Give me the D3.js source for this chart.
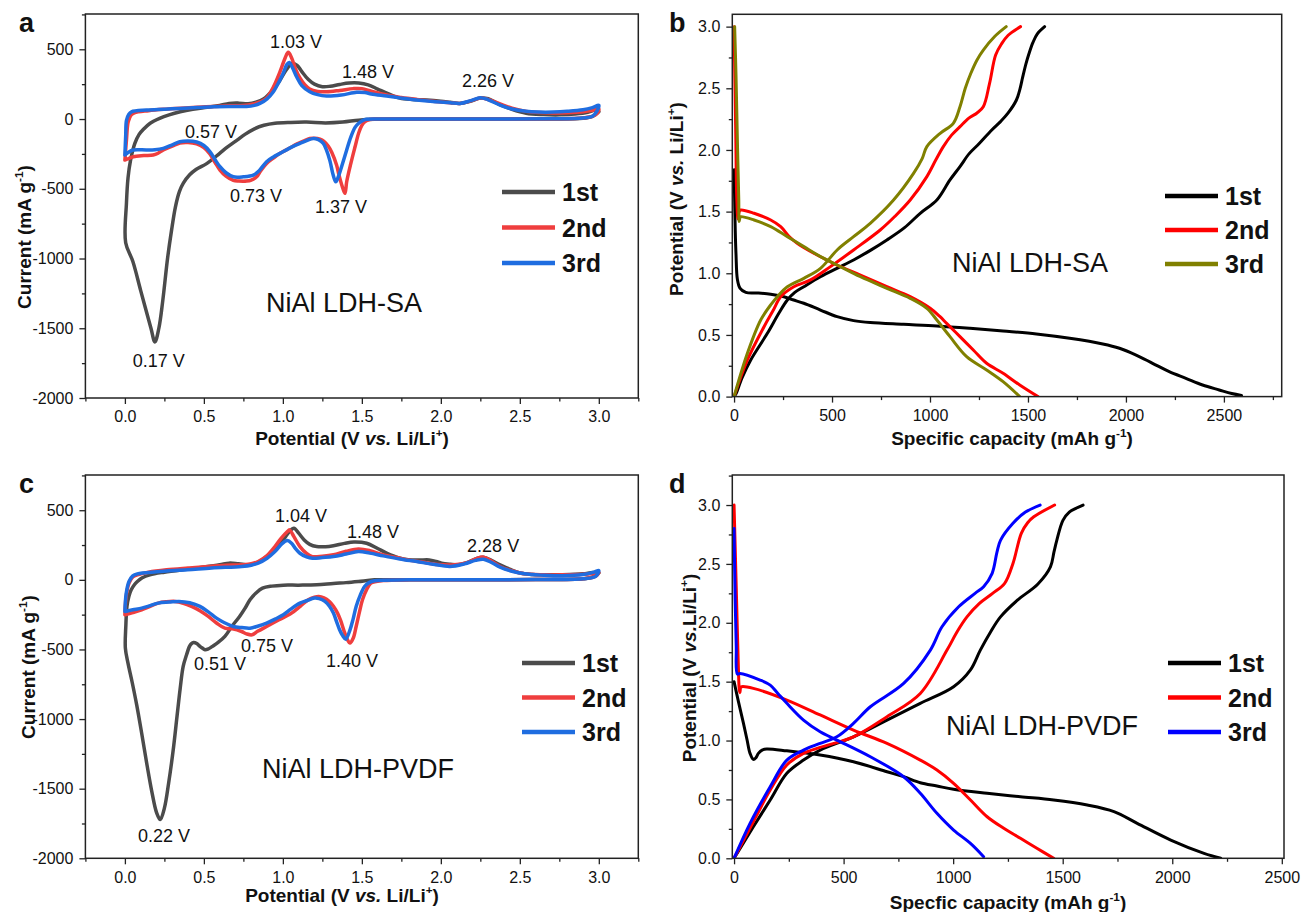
<!DOCTYPE html>
<html>
<head>
<meta charset="utf-8">
<script src="https://cdn.jsdelivr.net/npm/d3@7"></script>
<style>
  body { margin: 0; background: #fff; }
  svg text { font-family: "Liberation Sans", Arial, sans-serif; fill: #111; }
  .tick text { font-size: 16px; }
</style>
</head>
<body>
<div id="chart"></div>
<script>
/* Four panels: CV curves (a, c) and charge/discharge profiles (b, d) */
const width = 1301, height = 912;

// ---- tick values ----
const cvTicksX = [0, 0.5, 1, 1.5, 2, 2.5, 3];
const cvTicksY = [-2000, -1500, -1000, -500, 0, 500];
const gcdTicksX = [0, 500, 1000, 1500, 2000, 2500];
const gcdTicksY = [0, 0.5, 1, 1.5, 2, 2.5, 3];
const cycles = ["1st", "2nd", "3rd"];

// ---- a: CV, NiAl LDH-SA  [V, mA/g] ----
const saCV1 = [[3.0,52],[2.96,18],[2.9,5],[2.7,0],[2.2,0],[1.8,0],[1.58,-2],[1.48,-8],[1.38,-22],[1.27,-28],[1.15,-22],[1.05,-24],[0.95,-30],[0.88,-45],[0.82,-70],[0.76,-110],[0.71,-151],[0.65,-200],[0.60,-246],[0.52,-318],[0.45,-362],[0.41,-400],[0.37,-460],[0.345,-520],[0.32,-629],[0.295,-800],[0.27,-1000],[0.24,-1300],[0.215,-1500],[0.19,-1598],[0.165,-1500],[0.1,-1230],[0.05,-1020],[0.005,-887],
  [0.01,-600],[0.02,-420],[0.035,-300],[0.063,-175],[0.09,-110],[0.116,-75],[0.16,-30],[0.22,5],[0.28,30],[0.35,52],[0.43,70],[0.52,84],[0.6,97],[0.66,112],[0.72,114],[0.78,110],[0.83,120],[0.88,145],[0.93,200],[0.98,275],[1.02,350],[1.06,400],[1.09,385],[1.12,340],[1.16,285],[1.2,250],[1.25,232],[1.3,235],[1.36,248],[1.42,258],[1.48,258],[1.54,245],[1.6,215],[1.67,180],[1.74,150],[1.82,140],[1.91,136],[2.0,128],[2.06,120],[2.12,112],[2.18,125],[2.25,150],[2.3,145],[2.37,105],[2.45,70],[2.54,42],[2.65,32],[2.75,30],[2.85,36],[2.93,48],[2.98,65],[3.0,52]];
const saCV2 = [[0.0,-294],[0.01,-150],[0.021,-20],[0.04,30],[0.06,45],[0.15,60],[0.243,70],[0.35,78],[0.454,84],[0.56,90],[0.665,95],[0.75,97],[0.813,108],[0.86,125],[0.897,150],[0.94,230],[0.982,340],[1.015,440],[1.034,478],[1.055,440],[1.08,360],[1.108,295],[1.14,245],[1.17,215],[1.22,198],[1.277,195],[1.36,205],[1.446,218],[1.5,218],[1.56,200],[1.657,172],[1.75,155],[1.847,141],[1.95,128],[2.058,117],[2.12,112],[2.19,130],[2.25,150],[2.3,140],[2.375,108],[2.45,78],[2.54,55],[2.62,46],[2.71,43],[2.8,45],[2.9,52],[2.96,62],[3.0,72],
  [2.99,40],[2.96,20],[2.9,8],[2.7,2],[2.3,0],[1.9,0],[1.6,0],[1.55,-3],[1.52,-18],[1.5,-45],[1.48,-100],[1.457,-199],[1.43,-320],[1.404,-450],[1.393,-533],[1.375,-480],[1.355,-400],[1.34,-330],[1.31,-240],[1.288,-195],[1.26,-160],[1.235,-145],[1.2,-138],[1.17,-140],[1.13,-158],[1.087,-180],[1.04,-210],[0.982,-246],[0.94,-280],[0.897,-318],[0.86,-370],[0.834,-414],[0.8,-438],[0.771,-445],[0.72,-445],[0.686,-440],[0.64,-410],[0.602,-366],[0.57,-310],[0.538,-250],[0.5,-205],[0.454,-178],[0.4,-168],[0.348,-172],[0.3,-195],[0.243,-222],[0.21,-245],[0.179,-258],[0.12,-262],[0.053,-270],[0.02,-285],[0.0,-294]];
const saCV3 = [[0.0,-258],[0.005,-120],[0.01,-10],[0.025,35],[0.042,52],[0.137,64],[0.25,70],[0.348,76],[0.46,82],[0.56,88],[0.66,90],[0.77,90],[0.82,98],[0.855,112],[0.9,145],[0.94,196],[0.975,265],[1.003,330],[1.025,390],[1.04,405],[1.06,370],[1.087,303],[1.12,240],[1.17,196],[1.22,175],[1.277,165],[1.37,172],[1.467,192],[1.52,190],[1.56,180],[1.657,165],[1.75,150],[1.847,136],[1.95,125],[2.06,117],[2.12,112],[2.19,132],[2.25,153],[2.3,138],[2.375,100],[2.45,72],[2.54,55],[2.62,50],[2.71,50],[2.8,55],[2.9,66],[2.96,82],[3.0,98],
  [2.99,60],[2.96,20],[2.9,8],[2.7,2],[2.3,0],[1.9,0],[1.6,0],[1.53,-2],[1.51,-8],[1.48,-30],[1.457,-60],[1.43,-130],[1.404,-222],[1.375,-330],[1.351,-414],[1.335,-450],[1.318,-400],[1.298,-300],[1.275,-220],[1.256,-175],[1.225,-148],[1.193,-139],[1.15,-155],[1.108,-175],[1.04,-210],[0.982,-246],[0.94,-272],[0.897,-306],[0.85,-370],[0.813,-402],[0.75,-414],[0.686,-414],[0.64,-385],[0.602,-342],[0.57,-290],[0.538,-234],[0.5,-190],[0.454,-165],[0.4,-158],[0.348,-163],[0.3,-185],[0.243,-210],[0.19,-220],[0.137,-222],[0.053,-222],[0.02,-240],[0.0,-258]];

// ---- c: CV, NiAl LDH-PVDF ----
const pvCV1 = [[3.0,50],[2.96,20],[2.9,8],[2.6,2],[2.2,0],[1.8,0],[1.58,0],[1.478,-12],[1.4,-20],[1.32,-26],[1.214,-36],[1.1,-38],[1.003,-38],[0.93,-45],[0.871,-60],[0.83,-95],[0.792,-143],[0.76,-205],[0.726,-263],[0.68,-330],[0.633,-406],[0.59,-450],[0.554,-478],[0.53,-495],[0.507,-502],[0.49,-490],[0.475,-478],[0.455,-458],[0.435,-450],[0.42,-460],[0.409,-478],[0.39,-540],[0.369,-622],[0.35,-780],[0.33,-980],[0.305,-1230],[0.277,-1459],[0.25,-1640],[0.224,-1722],[0.2,-1670],[0.172,-1530],[0.14,-1330],[0.106,-1100],[0.075,-900],[0.047,-741],[0.02,-600],[0.003,-490],
  [0.006,-330],[0.013,-191],[0.025,-120],[0.04,-72],[0.06,-35],[0.079,-12],[0.11,15],[0.158,36],[0.25,55],[0.396,77],[0.5,92],[0.6,108],[0.66,120],[0.72,115],[0.79,108],[0.84,125],[0.897,167],[0.95,225],[1.003,287],[1.04,345],[1.07,371],[1.1,335],[1.135,287],[1.17,255],[1.214,239],[1.27,238],[1.32,245],[1.39,262],[1.45,272],[1.53,263],[1.6,225],[1.66,191],[1.73,160],[1.794,145],[1.86,142],[1.926,143],[1.97,132],[2.005,120],[2.06,112],[2.11,108],[2.17,125],[2.22,150],[2.27,163],[2.32,140],[2.375,108],[2.44,75],[2.507,48],[2.58,38],[2.64,36],[2.77,37],[2.9,43],[2.96,52],[3.0,50]];
const pvCV2 = [[0.0,-251],[0.008,-120],[0.026,-24],[0.05,20],[0.079,36],[0.15,55],[0.264,72],[0.4,85],[0.528,96],[0.64,104],[0.739,108],[0.8,115],[0.844,132],[0.9,175],[0.95,239],[0.99,300],[1.029,347],[1.042,359],[1.07,310],[1.108,239],[1.15,190],[1.187,167],[1.25,170],[1.32,180],[1.4,205],[1.478,222],[1.55,210],[1.636,179],[1.72,160],[1.794,143],[1.88,128],[1.979,110],[2.084,108],[2.17,125],[2.22,150],[2.27,163],[2.32,135],[2.375,96],[2.45,65],[2.53,43],[2.65,36],[2.77,36],[2.9,40],[2.97,48],[3.0,53],
  [2.98,25],[2.9,8],[2.6,2],[2.2,0],[1.8,0],[1.636,-5],[1.59,-12],[1.557,-24],[1.53,-70],[1.504,-143],[1.485,-230],[1.464,-335],[1.445,-420],[1.425,-454],[1.405,-420],[1.385,-359],[1.365,-290],[1.346,-239],[1.32,-190],[1.293,-155],[1.26,-130],[1.227,-120],[1.2,-125],[1.161,-143],[1.11,-190],[1.055,-239],[0.976,-287],[0.897,-335],[0.84,-370],[0.805,-395],[0.77,-388],[0.739,-371],[0.68,-352],[0.633,-347],[0.58,-310],[0.528,-263],[0.475,-222],[0.422,-191],[0.37,-168],[0.317,-155],[0.26,-158],[0.211,-167],[0.16,-190],[0.106,-215],[0.05,-235],[0.0,-251]];
const pvCV3 = [[0.0,-227],[0.008,-100],[0.026,-12],[0.05,28],[0.079,43],[0.2,58],[0.396,72],[0.55,85],[0.739,96],[0.8,105],[0.844,120],[0.9,155],[0.95,203],[0.995,260],[1.029,282],[1.055,263],[1.08,225],[1.108,191],[1.15,165],[1.187,155],[1.25,160],[1.32,167],[1.4,185],[1.478,203],[1.55,192],[1.636,172],[1.74,150],[1.847,131],[1.95,112],[2.058,96],[2.15,115],[2.22,140],[2.27,148],[2.32,125],[2.375,91],[2.45,62],[2.53,43],[2.65,33],[2.77,29],[2.9,38],[2.97,55],[3.0,67],
  [2.98,25],[2.9,8],[2.6,2],[2.2,0],[1.8,0],[1.58,-7],[1.545,-20],[1.517,-48],[1.49,-110],[1.464,-191],[1.445,-280],[1.425,-359],[1.398,-426],[1.378,-400],[1.359,-359],[1.34,-300],[1.32,-239],[1.295,-190],[1.266,-155],[1.23,-135],[1.2,-131],[1.15,-150],[1.108,-167],[1.05,-210],[1.003,-251],[0.95,-282],[0.897,-311],[0.84,-333],[0.792,-347],[0.74,-343],[0.686,-335],[0.63,-308],[0.58,-275],[0.53,-232],[0.475,-191],[0.41,-165],[0.343,-155],[0.28,-160],[0.211,-167],[0.16,-185],[0.106,-203],[0.05,-215],[0.0,-227]];

// ---- b: charge/discharge, NiAl LDH-SA  [mAh/g, V] ----
const saDis1 = [[0,1.84],[3,1.6],[6,1.35],[10,1.15],[17,0.95],[30,0.88],[60,0.845],[120,0.84],[187,0.83],[254,0.81],[300,0.785],[356,0.757],[441,0.702],[526,0.648],[610,0.616],[695,0.6],[865,0.586],[1035,0.573],[1204,0.554],[1373,0.532],[1543,0.508],[1713,0.473],[1882,0.427],[1967,0.392],[2052,0.337],[2136,0.27],[2221,0.202],[2306,0.148],[2391,0.094],[2476,0.054],[2540,0.025],[2590,0.01]];
const saChg1 = [[0,0],[9,0.02],[40,0.15],[85,0.297],[170,0.513],[230,0.68],[272,0.783],[310,0.845],[356,0.891],[441,0.972],[525,1.04],[610,1.108],[700,1.19],[780,1.27],[870,1.37],[950,1.486],[1035,1.594],[1102,1.757],[1153,1.865],[1200,1.97],[1250,2.05],[1314,2.16],[1360,2.23],[1399,2.3],[1441,2.405],[1460,2.5],[1473,2.59],[1490,2.7],[1505,2.78],[1525,2.87],[1547,2.94],[1585,3.0]];
const saDis2 = [[0,3.0],[8,2.2],[14,1.6],[20,1.44],[26,1.5],[34,1.513],[102,1.487],[187,1.432],[238,1.378],[280,1.3],[322,1.243],[407,1.162],[526,1.067],[645,0.986],[780,0.891],[899,0.81],[1001,0.716],[1050,0.65],[1085,0.594],[1153,0.486],[1221,0.378],[1289,0.27],[1373,0.189],[1458,0.094],[1551,0.0]];
const saChg2 = [[0,0],[68,0.297],[153,0.567],[200,0.7],[238,0.81],[305,0.891],[390,0.946],[492,1.054],[610,1.189],[746,1.351],[820,1.46],[899,1.594],[984,1.784],[1030,1.92],[1068,2.027],[1110,2.12],[1153,2.189],[1200,2.26],[1240,2.3],[1272,2.35],[1304,2.54],[1335,2.77],[1365,2.86],[1399,2.93],[1462,3.0]];
const saDis3 = [[3,3.0],[10,2.6],[18,2.0],[24,1.6],[26,1.42],[30,1.45],[34,1.459],[102,1.432],[187,1.378],[272,1.297],[356,1.216],[441,1.135],[526,1.067],[645,0.972],[780,0.878],[899,0.797],[984,0.716],[1035,0.621],[1102,0.486],[1187,0.324],[1289,0.216],[1373,0.121],[1458,0.0]];
const saChg3 = [[0,0],[68,0.351],[136,0.621],[190,0.75],[221,0.81],[272,0.891],[356,0.959],[441,1.04],[526,1.189],[610,1.297],[695,1.405],[814,1.594],[916,1.81],[960,1.93],[984,2.027],[1052,2.135],[1119,2.216],[1153,2.35],[1180,2.5],[1208,2.62],[1240,2.73],[1272,2.81],[1330,2.92],[1389,3.0]];

// ---- d: charge/discharge, NiAl LDH-PVDF ----
const pvDis1 = [[0,1.5],[20,1.33],[43,1.146],[60,1.0],[73,0.891],[88,0.84],[100,0.855],[111,0.891],[130,0.92],[149,0.928],[241,0.913],[393,0.877],[545,0.82],[698,0.735],[774,0.693],[850,0.642],[926,0.614],[1002,0.586],[1155,0.552],[1307,0.523],[1459,0.495],[1612,0.452],[1734,0.396],[1840,0.297],[1993,0.155],[2145,0.042],[2221,0.0]];
const pvChg1 = [[0,0],[88,0.268],[165,0.495],[241,0.722],[317,0.834],[393,0.919],[545,1.032],[698,1.174],[850,1.316],[1002,1.457],[1079,1.6],[1124,1.768],[1170,1.92],[1216,2.05],[1292,2.19],[1387,2.33],[1444,2.475],[1460,2.6],[1473,2.7],[1501,2.87],[1530,2.94],[1558,2.97],[1593,3.0]];
const pvDis2 = [[0,3.0],[10,2.3],[20,1.6],[24,1.43],[27,1.406],[30,1.45],[35,1.457],[88,1.443],[241,1.344],[393,1.217],[545,1.089],[698,0.976],[850,0.834],[926,0.75],[1002,0.637],[1079,0.495],[1155,0.353],[1231,0.255],[1307,0.17],[1382,0.085],[1459,0.0]];
const pvChg2 = [[0,0],[88,0.311],[165,0.58],[241,0.793],[317,0.891],[393,0.942],[545,1.032],[698,1.203],[850,1.4],[972,1.768],[1020,1.93],[1063,2.05],[1120,2.165],[1180,2.25],[1235,2.335],[1273,2.504],[1311,2.76],[1340,2.85],[1368,2.9],[1463,3.0]];
const pvDis3 = [[0,2.8],[5,2.2],[10,1.8],[15,1.565],[27,1.57],[119,1.514],[165,1.471],[200,1.4],[241,1.316],[317,1.174],[393,1.075],[469,1.004],[622,0.862],[774,0.693],[850,0.552],[926,0.382],[1002,0.24],[1079,0.127],[1139,0.014]];
const pvChg3 = [[0,0],[73,0.297],[165,0.608],[241,0.834],[317,0.919],[393,0.976],[469,1.032],[545,1.146],[622,1.287],[774,1.485],[896,1.768],[949,1.966],[1025,2.136],[1100,2.25],[1139,2.306],[1178,2.42],[1200,2.6],[1216,2.7],[1273,2.845],[1330,2.94],[1397,3.0]];

// ---- peak labels [text, V, mA/g] ----
const peaksSA = [["1.03 V",1.083,509],["1.48 V",1.539,294],["2.26 V",2.299,230],["0.57 V",0.545,-136],["0.73 V",0.83,-595],["1.37 V",1.368,-674],["0.17 V",0.215,-1779]];
const peaksPVDF = [["1.04 V",1.115,416],["1.48 V",1.571,301],["2.28 V",2.331,201],["0.75 V",0.899,-517],["0.51 V",0.602,-646],["1.40 V",1.438,-624],["0.22 V",0.247,-1880]];

const cvColors = ["#4b4b4b", "#ef3e3e", "#1f6de0"];
const saColors = ["#000000", "#ff0000", "#808000"];
const pvColors = ["#000000", "#ff0000", "#0000ff"];

// title pieces: [text, kind]
const tPotential = [["Potential (V "], ["vs.", "i"], [" Li/Li"], ["+", "sup"], [")"]];
const tPotentialD = [["Potential (V "], ["vs.", "i"], ["Li/Li"], ["+", "sup"], [")"]];
const tCurrent = [["Current (mA g"], ["-1", "sup"], [")"]];
const tCapB = [["Specific capacity (mAh g"], ["-1", "sup"], [")"]];
const tCapD = [["Specfic capacity (mAh g"], ["-1", "sup"], [")"]];

const panels = [
  { letter: "a", lp: [19, 32], box: [85.4, 14, 638.3, 398], xd: [-0.25, 3.25], yd: [-2000, 753],
    xt: cvTicksX, yt: cvTicksY, xm: d3.range(-0.25, 3.3, 0.5), ym: d3.range(-1750, 760, 500),
    fx: d3.format(".1f"), fy: d => String(d), lines: [saCV1, saCV2, saCV3], colors: cvColors, sw: 3.5,
    peaks: peaksSA, name: ["NiAl LDH-SA", 1.387, -1385],
    legend: { x: 502, y: 192, dy: 35.5 }, xt1: [tPotential, 352, 445], yt1: [tCurrent, 31, 237] },
  { letter: "b", lp: [669, 32], box: [732.3, 14.3, 1281.7, 396.6], xd: [-9, 2795], yd: [0, 3.1],
    xt: gcdTicksX, yt: gcdTicksY, xm: d3.range(250, 2800, 500), ym: d3.range(0.25, 3, 0.5),
    fx: d => String(d), fy: d3.format(".1f"), lines: [saDis1, saChg1, saDis2, saChg2, saDis3, saChg3],
    colors: [saColors[0], saColors[0], saColors[1], saColors[1], saColors[2], saColors[2]], legColors: saColors, sw: 3,
    peaks: [], name: ["NiAl LDH-SA", 1510, 1.01],
    legend: { x: 1165, y: 196, dy: 34 }, xt1: [tCapB, 1012, 445], yt1: [tPotential, 683, 199] },
  { letter: "c", lp: [19, 493], box: [85.4, 475, 638.3, 858.3], xd: [-0.25, 3.25], yd: [-2000, 753],
    xt: cvTicksX, yt: cvTicksY, xm: d3.range(-0.25, 3.3, 0.5), ym: d3.range(-1750, 760, 500),
    fx: d3.format(".1f"), fy: d => String(d), lines: [pvCV1, pvCV2, pvCV3], colors: cvColors, sw: 3.5,
    peaks: peaksPVDF, name: ["NiAl LDH-PVDF", 1.476, -1420],
    legend: { x: 522, y: 663, dy: 34.5 }, xt1: [tPotential, 342, 902], yt1: [tCurrent, 35, 667] },
  { letter: "d", lp: [669, 493], box: [732.3, 475, 1284, 858.3], xd: [-8, 2510], yd: [0, 3.255],
    xt: gcdTicksX, yt: gcdTicksY, xm: d3.range(250, 2500, 500), ym: d3.range(0.25, 3.3, 0.5),
    fx: d => String(d), fy: d3.format(".1f"), lines: [pvDis1, pvChg1, pvDis2, pvChg2, pvDis3, pvChg3],
    colors: [pvColors[0], pvColors[0], pvColors[1], pvColors[1], pvColors[2], pvColors[2]], legColors: pvColors, sw: 3,
    peaks: [], name: ["NiAl LDH-PVDF", 1405, 1.047],
    legend: { x: 1168, y: 663, dy: 34.5 }, xt1: [tCapD, 1008, 909], yt1: [tPotentialD, 696, 668] }
];

const svg = d3.select("#chart")
  .append("svg")
  .attr("width", width)
  .attr("height", height)
  .attr("viewBox", [0, 0, width, height]);

// write a title made of plain / italic / superscript pieces
function addPieces(text, pieces, size) {
  let shifted = false;
  pieces.forEach(([s, kind]) => {
    const t = text.append("tspan").text(s);
    if (kind === "i") t.attr("font-style", "italic");
    if (kind === "sup") {
      t.attr("font-size", size * 0.62).attr("dy", -size * 0.4);
      shifted = true;
    } else if (shifted) {
      t.attr("dy", size * 0.4);
      shifted = false;
    }
  });
}

panels.forEach(p => {
  const [x0, y0, x1, y1] = p.box;
  const x = d3.scaleLinear().domain(p.xd).range([x0, x1]);
  const y = d3.scaleLinear().domain(p.yd).range([y1, y0]);
  const g = svg.append("g");

  // curves, clipped to the frame
  const clipId = "clip-" + p.letter;
  svg.append("clipPath").attr("id", clipId)
    .append("rect").attr("x", x0).attr("y", y0).attr("width", x1 - x0).attr("height", y1 - y0);

  const line = d3.line()
    .x(d => x(d[0]))
    .y(d => y(d[1]))
    .curve(d3.curveCatmullRom.alpha(0.5));

  g.append("g").attr("clip-path", `url(#${clipId})`)
    .selectAll("path")
    .data(p.lines)
    .join("path")
    .attr("d", line)
    .attr("fill", "none")
    .attr("stroke", (d, i) => p.colors[i])
    .attr("stroke-width", p.sw)
    .attr("stroke-linejoin", "round")
    .attr("stroke-linecap", "round");

  // axes
  const xAxis = g.append("g").attr("transform", `translate(0,${y1})`)
    .call(d3.axisBottom(x).tickValues(p.xt).tickFormat(p.fx).tickSize(6).tickSizeOuter(0).tickPadding(7));
  g.append("g").attr("transform", `translate(0,${y1})`)
    .call(d3.axisBottom(x).tickValues(p.xm).tickFormat("").tickSize(3.5).tickSizeOuter(0));
  const yAxis = g.append("g").attr("transform", `translate(${x0},0)`)
    .call(d3.axisLeft(y).tickValues(p.yt).tickFormat(p.fy).tickSize(6).tickSizeOuter(0).tickPadding(6));
  g.append("g").attr("transform", `translate(${x0},0)`)
    .call(d3.axisLeft(y).tickValues(p.ym).tickFormat("").tickSize(3.5).tickSizeOuter(0));
  g.selectAll(".domain").remove();
  g.selectAll(".tick line").attr("stroke", "#222").attr("stroke-width", 1.3);
  g.selectAll(".tick text").attr("fill", "#1a1a1a");

  g.append("rect")
    .attr("x", x0).attr("y", y0)
    .attr("width", x1 - x0).attr("height", y1 - y0)
    .attr("fill", "none").attr("stroke", "#222").attr("stroke-width", 1.5);

  // panel letter
  svg.append("text").attr("x", p.lp[0]).attr("y", p.lp[1])
    .attr("font-size", 27).attr("font-weight", "bold").text(p.letter);

  // axis titles
  const [xtPieces, xtx, xty] = p.xt1;
  addPieces(svg.append("text").attr("x", xtx).attr("y", xty)
    .attr("text-anchor", "middle").attr("font-size", 19).attr("font-weight", "bold"), xtPieces, 19);
  const [ytPieces, ytx, yty] = p.yt1;
  addPieces(svg.append("text").attr("transform", `translate(${ytx},${yty}) rotate(-90)`)
    .attr("text-anchor", "middle").attr("font-size", 19).attr("font-weight", "bold"), ytPieces, 19);

  // peak labels
  g.selectAll("text.peak")
    .data(p.peaks)
    .join("text")
    .attr("class", "peak")
    .attr("x", d => x(d[1]))
    .attr("y", d => y(d[2]))
    .attr("text-anchor", "middle")
    .attr("font-size", 18)
    .text(d => d[0]);

  // sample name
  g.append("text")
    .attr("x", x(p.name[1])).attr("y", y(p.name[2]))
    .attr("text-anchor", "middle").attr("font-size", 27)
    .text(p.name[0]);

  // legend
  const legColors = p.legColors || p.colors;
  const leg = g.append("g");
  cycles.forEach((c, i) => {
    const ly = p.legend.y + i * p.legend.dy;
    leg.append("line")
      .attr("x1", p.legend.x).attr("x2", p.legend.x + 53)
      .attr("y1", ly).attr("y2", ly)
      .attr("stroke", legColors[i]).attr("stroke-width", 4.5);
    leg.append("text")
      .attr("x", p.legend.x + 60).attr("y", ly + 9)
      .attr("font-size", 25).attr("font-weight", "bold")
      .text(c);
  });
});
</script>
</body>
</html>
